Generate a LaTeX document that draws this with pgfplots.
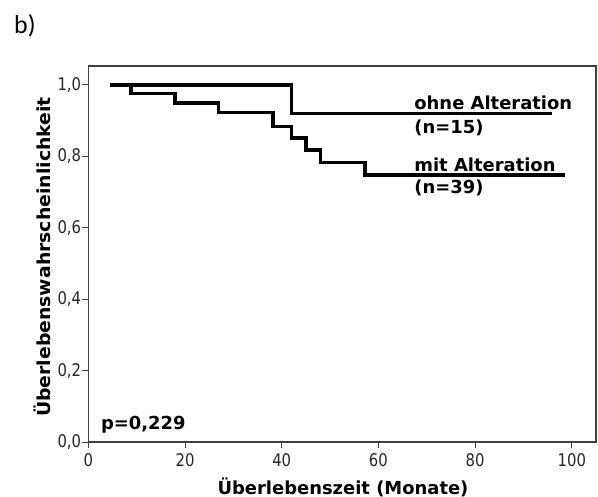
\documentclass[border=0pt]{standalone}
\usepackage{pgfplots}
\pgfplotsset{compat=1.18}
\usepackage{fontspec}
\setmainfont{DejaVu Sans}
\newfontfamily\tickfont[FakeStretch=0.85]{DejaVu Sans}
\newfontfamily\labfont{DejaVu Sans Bold}
\newfontfamily\ylabfont[FakeStretch=1.05]{DejaVu Sans Bold}
\newfontfamily\panelfont{Carlito}

\pgfplotstableread{
t     s
4.5   1.000
42.0  0.920
96.0  0.920
}\ohne

\pgfplotstableread{
t     s
4.5   1.000
8.8   0.976
17.9  0.949
26.9  0.922
38.2  0.884
42.0  0.851
45.0  0.818
48.0  0.783
57.2  0.748
98.5  0.748
}\mit

\begin{document}
\begin{tikzpicture}
\begin{axis}[
  at={(88.3bp,-442bp)}, anchor=south west,
  scale only axis,
  width=507.7bp, height=376bp,
  xmin=0, xmax=105, ymin=0, ymax=1.053,
  xtick={0,20,40,60,80,100},
  ytick={0,0.2,0.4,0.6,0.8,1.0},
  xtick pos=bottom, ytick pos=left,
  tick align=outside,
  major tick length=6bp,
  axis line style={draw=black!75, line width=1.1bp},
  every tick/.style={draw=black!75, line width=1bp},
  /pgf/number format/assume math mode=true,
  ticklabel style={font=\tickfont\fontsize{17.5}{20}\selectfont, text=black!85},
  yticklabel style={/pgf/number format/fixed, /pgf/number format/fixed zerofill,
    /pgf/number format/precision=1, /pgf/number format/use comma,
    anchor=east, inner sep=1bp},
  xticklabel style={anchor=north, inner sep=1bp, yshift=-4bp},
  clip=false,
]
\addplot[const plot, black, line width=3.4bp, line join=miter] table[x=t, y=s] {\ohne};
\addplot[const plot, black, line width=3.4bp, line join=miter] table[x=t, y=s] {\mit};

\node[anchor=base west, inner sep=0pt, font=\labfont\fontsize{18}{21}\selectfont]
  at (axis cs:67.4,0.930) {ohne Alteration};
\node[anchor=base west, inner sep=0pt, font=\labfont\fontsize{18}{21}\selectfont]
  at (axis cs:67.4,0.863) {(n=15)};
\node[anchor=base west, inner sep=0pt, font=\labfont\fontsize{18}{21}\selectfont]
  at (axis cs:67.4,0.757) {mit Alteration};
\node[anchor=base west, inner sep=0pt, font=\labfont\fontsize{18}{21}\selectfont]
  at (axis cs:67.4,0.696) {(n=39)};
\node[anchor=base west, inner sep=0pt, font=\labfont\fontsize{18}{21}\selectfont]
  at (axis cs:2.6,0.036) {p=0,229};
\end{axis}

\node[anchor=base, inner sep=0pt, font=\labfont\fontsize{18}{21}\selectfont]
  at (343bp,-494bp) {Überlebenszeit (Monate)};
\node[rotate=90, anchor=base, inner sep=0pt, font=\ylabfont\fontsize{18}{21}\selectfont]
  at (50bp,-257bp) {Überlebenswahrscheinlichkeit};
\node[anchor=base west, inner sep=0pt, font=\panelfont\fontsize{26}{30}\selectfont]
  at (14bp,-33bp) {b)};

\pgfresetboundingbox
\path[use as bounding box] (0,0) rectangle (598bp,-497bp);
\end{tikzpicture}
\end{document}
